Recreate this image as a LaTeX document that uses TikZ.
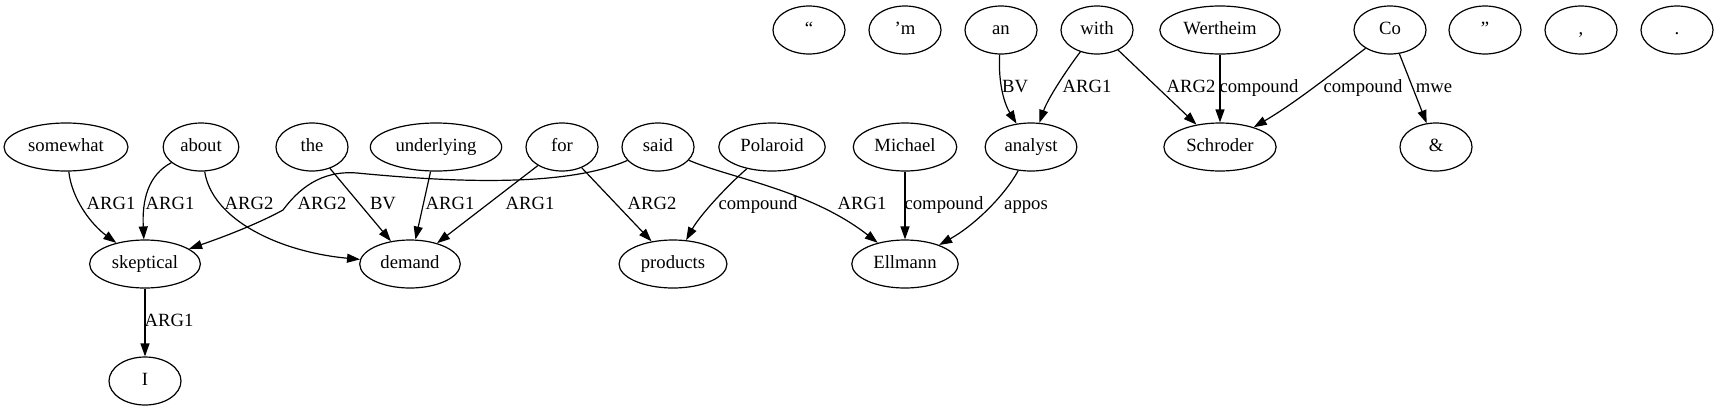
\documentclass[tikz,border=0pt]{standalone}
\usepackage{fontspec}
\setmainfont{Liberation Serif}
\usetikzlibrary{shapes.geometric,arrows.meta}
\tikzset{
  nd_word/.style={ellipse,draw=black,line width=0.9pt,minimum width=54pt,minimum height=36pt,inner xsep=4.5pt,inner ysep=0pt,text height=9.5pt,text depth=3pt,font=\fontsize{14}{16}\selectfont},
  nd_lbl/.style={inner sep=0pt,text height=9.5pt,text depth=3pt,font=\fontsize{14}{16}\selectfont},
  arr/.style={-{Triangle[length=9.75pt,width=6.75pt]},line width=0.9pt},
}

\begin{document}
\begin{tikzpicture}[x=0.75pt,y=-0.75pt]
\useasboundingbox (0,0) rectangle (1719,411);
\def\rA{30}\def\rB{147}\def\rC{264}\def\rD{381}
% row 1
\node[nd_word] at (809,\rA)(oq){“};
\node[nd_word] at (905,\rA)(am){’m};
\node[nd_word] at (1001,\rA)(an){an};
\node[nd_word] at (1097,\rA)(with){with};
\node[nd_word] at (1220,\rA)(wertheim){Wertheim};
\node[nd_word] at (1390,\rA)(co){Co};
\node[nd_word] at (1485,\rA)(cq){”};
\node[nd_word] at (1581,\rA)(comma){,};
\node[nd_word] at (1677,\rA)(period){.};
% row 2
\node[nd_word] at (66,\rB)(somewhat){somewhat};
\node[nd_word] at (201,\rB)(about){about};
\node[nd_word] at (312,\rB)(the){the};
\node[nd_word] at (436,\rB)(underlying){underlying};
\node[nd_word] at (562,\rB)(for){for};
\node[nd_word] at (658,\rB)(said){said};
\node[nd_word] at (772,\rB)(polaroid){Polaroid};
\node[nd_word] at (905,\rB)(michael){Michael};
\node[nd_word] at (1031,\rB)(analyst){analyst};
\node[nd_word] at (1220,\rB)(schroder){Schroder};
\node[nd_word] at (1436,\rB)(amp){\&};
% row 3
\node[nd_word] at (145,\rC)(skeptical){skeptical};
\node[nd_word] at (410,\rC)(demand){demand};
\node[nd_word] at (673,\rC)(products){products};
\node[nd_word] at (905,\rC)(ellmann){Ellmann};
% row 4
\node[nd_word] at (145,\rD)(i){I};
% edges
\draw[arr](somewhat) .. controls (72,200) and (92,225) .. (skeptical) node[nd_lbl] at (111,205)(l1){ARG1};
\draw[arr](about) .. controls (148,175) and (142,200) .. (skeptical) node[nd_lbl] at (170,205)(l2){ARG1};
\draw[arr](about) .. controls (212,220) and (280,252) .. (demand) node[nd_lbl] at (249,205)(l3){ARG2};
\draw[arr](said) .. controls (560,190) and (430,180) .. (357,173) .. controls (320,170) and (298,190) .. (283,210) .. controls (265,220) and (235,233) .. (skeptical) node[nd_lbl] at (322,205)(l4){ARG2};
\draw[arr](the)--(demand) node[nd_lbl] at (383,205)(l5){BV};
\draw[arr](underlying)--(demand) node[nd_lbl] at (450,205)(l6){ARG1};
\draw[arr](for)--(demand) node[nd_lbl] at (530,205)(l7){ARG1};
\draw[arr](for)--(products) node[nd_lbl] at (652,205)(l8){ARG2};
\draw[arr](said) .. controls (730,178) and (810,190) .. (ellmann) node[nd_lbl] at (862,205)(l9){ARG1};
\draw[arr](polaroid) .. controls (728,185) and (700,215) .. (products) node[nd_lbl] at (758,205)(l10){compound};
\draw[arr](michael)--(ellmann) node[nd_lbl] at (944,205)(l11){compound};
\draw[arr](analyst) .. controls (1005,195) and (975,225) .. (ellmann) node[nd_lbl] at (1026,205)(l12){appos};
\draw[arr](an) .. controls (998,85) and (1005,105) .. (analyst) node[nd_lbl] at (1015,88)(l13){BV};
\draw[arr](with) .. controls (1068,68) and (1048,98) .. (analyst) node[nd_lbl] at (1087,88)(l14){ARG1};
\draw[arr](with)--(schroder) node[nd_lbl] at (1191,88)(l15){ARG2};
\draw[arr](wertheim)--(schroder) node[nd_lbl] at (1259,88)(l16){compound};
\draw[arr](co) .. controls (1330,75) and (1295,103) .. (schroder) node[nd_lbl] at (1363,88)(l17){compound};
\draw[arr](co)--(amp) node[nd_lbl] at (1434,88)(l18){mwe};
\draw[arr](skeptical)--(i) node[nd_lbl] at (169,322)(l19){ARG1};
\end{tikzpicture}
\end{document}
